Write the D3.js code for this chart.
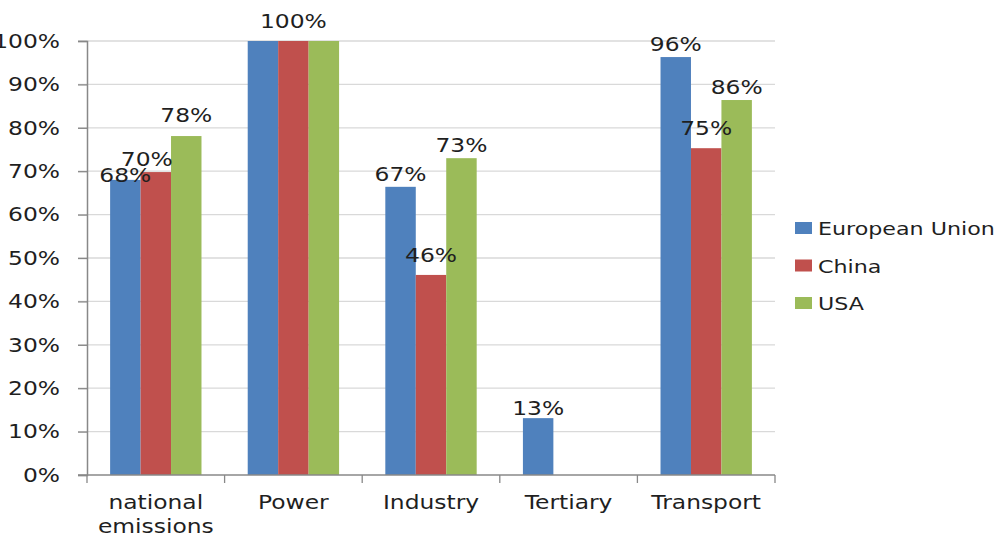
<!DOCTYPE html>
<html><head><meta charset="utf-8">
<script src="https://cdn.jsdelivr.net/npm/d3@7"></script>
<style>
html,body{margin:0;padding:0;background:#fff;}
text{font-family:"DejaVu Sans",Verdana,sans-serif;fill:#1f1f1f;}
</style></head>
<body><svg id="c" width="1005" height="536"></svg>
<script>
const categories = ["national emissions","Power","Industry","Tertiary","Transport"];
const seriesNames = ["European Union","China","USA"];
const euValues = [0.68, 1.00, 0.664, 0.131, 0.963];
const chinaValues = [0.698, 1.00, 0.461, 0, 0.753];
const usaValues = [0.781, 1.00, 0.730, 0, 0.864];
const euLabels = ["68%", "", "67%", "13%", "96%"];
const chinaLabels = ["70%", "100%", "46%", "", "75%"];
const usaLabels = ["78%", "", "73%", "", "86%"];
const yTicks = [0,0.1,0.2,0.3,0.4,0.5,0.6,0.7,0.8,0.9,1.0];
const colors = ["#4F81BD","#C0504D","#9BBB59"];

const values = [euValues, chinaValues, usaValues];
const labels = [euLabels, chinaLabels, usaLabels];

const SX = 1.2;      // horizontal stretch of the reference's text
const FS = "19.5px";

const svg = d3.select("#c");
const mLeft = 87, mRight = 775, mTop = 41, mBottom = 475;

const y = d3.scaleLinear().domain([0,1]).range([mBottom, mTop]);
const x0 = d3.scaleBand().domain(categories).range([mLeft, mRight]).padding(0);
const bw = x0.bandwidth();
const x1 = d3.scaleBand().domain(seriesNames).range([bw*0.168, bw*0.832]).padding(0);

function stext(parent, x, yy, str, anchor, size){
  return parent.append("text")
    .attr("transform", `translate(${x},${yy}) scale(${SX},1)`)
    .attr("text-anchor", anchor || "middle")
    .style("font-size", size || FS)
    .text(str);
}

// gridlines
svg.append("g").selectAll("line").data(yTicks.filter(d=>d>0)).join("line")
  .attr("x1", 78).attr("x2", mRight).attr("y1", d=>y(d)).attr("y2", d=>y(d))
  .attr("stroke", "#d9d9d9").attr("stroke-width", 1.3);

// bars
const rows = [];
categories.forEach((c,i)=>seriesNames.forEach((s,j)=>rows.push({c, s, j, v: values[j][i], lab: labels[j][i], key: i+"-"+j})));
svg.append("g").selectAll("rect").data(rows.filter(r=>r.v>0)).join("rect")
  .attr("x", r=>x0(r.c)+x1(r.s)).attr("width", x1.bandwidth())
  .attr("y", r=>y(r.v)).attr("height", r=>mBottom - y(r.v))
  .attr("fill", r=>colors[r.j]);

// y axis
const yAxis = d3.axisLeft(y).tickValues(yTicks).tickSize(9).tickPadding(18)
  .tickFormat(d=>Math.round(d*100)+"%");
const ga = svg.append("g").attr("transform", `translate(${mLeft},0)`).call(yAxis);
ga.select(".domain").attr("stroke", "#888").attr("stroke-width", 1.5);
ga.selectAll(".tick line").attr("stroke", "#888").attr("stroke-width", 1.3);
ga.selectAll(".tick text").style("font-size",FS)
  .style("font-family","DejaVu Sans").attr("fill","#1f1f1f")
  .attr("x", -27/SX).attr("transform", `scale(${SX},1)`);

// x axis
const xAxis = d3.axisBottom(x0).tickSize(0).tickFormat("");
const gx = svg.append("g").attr("transform", `translate(0,${mBottom})`).call(xAxis);
gx.select(".domain").attr("stroke", "#888").attr("stroke-width", 1.5).attr("d", `M78,0H${mRight}`);
const bounds = categories.map(c=>x0(c)).concat([mRight]);
gx.append("g").selectAll("line").data(bounds).join("line")
  .attr("x1", d=>d).attr("x2", d=>d).attr("y1", 0).attr("y2", 8)
  .attr("stroke", "#888").attr("stroke-width", 1.3);

// category labels
const gc = svg.append("g");
categories.forEach(c=>{
  const words = c === "national emissions" ? ["national","emissions"] : [c];
  words.forEach((w,k)=>stext(gc, x0(c)+bw/2, 509 + k*24, w));
});

// data labels
const nudge = {"0-0":[0,8],"0-1":[-9,0],"0-2":[0,-8],"1-1":[0,-7],"2-1":[0,-7],"3-0":[0,3],"4-1":[0,-7]};
const gl = svg.append("g");
rows.filter(r=>r.lab).forEach(r=>{
  const n = nudge[r.key] || [0,0];
  stext(gl, x0(r.c)+x1(r.s)+x1.bandwidth()/2 + n[0], y(r.v) - 6 + n[1], r.lab);
});

// legend
const lg = svg.append("g");
seriesNames.forEach((s,i)=>{
  const yy = 228 + i*37.5;
  lg.append("rect").attr("x", 795).attr("y", yy-6).attr("width", 17).attr("height", 12).attr("fill", colors[i]);
  stext(lg, 818, yy+7, s, "start", "18.5px");
});
</script></body></html>
